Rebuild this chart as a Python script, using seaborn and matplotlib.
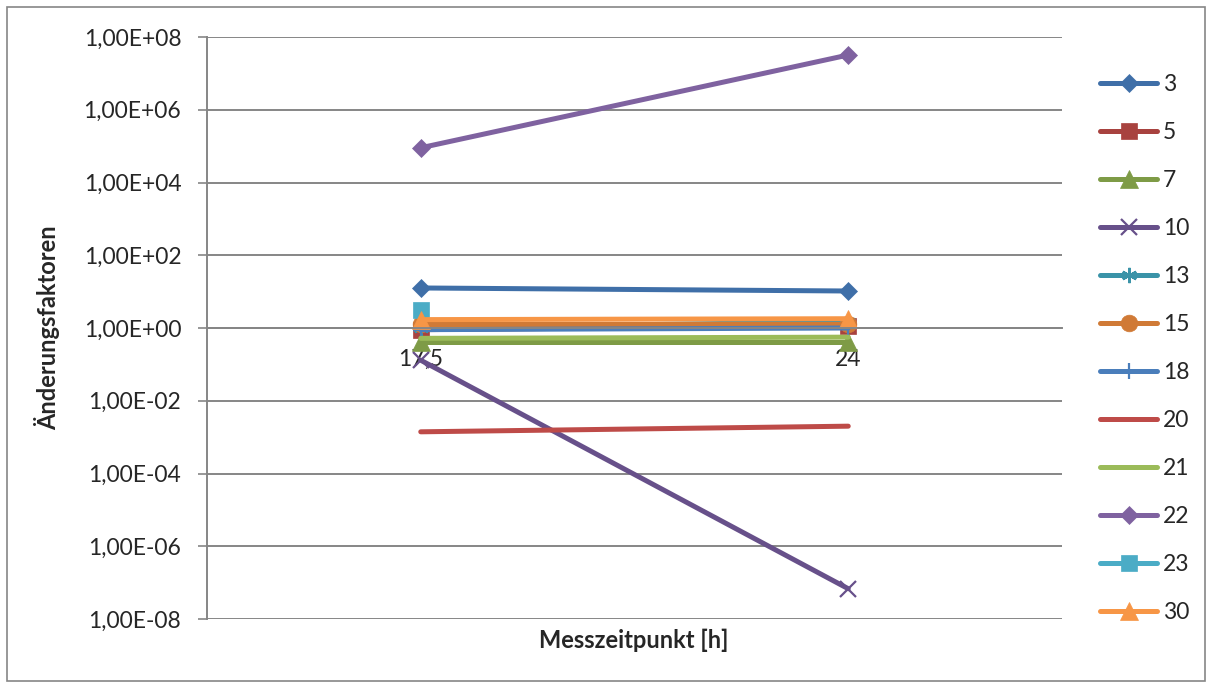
import matplotlib
matplotlib.use("Agg")
import matplotlib.pyplot as plt
from matplotlib.patches import Rectangle
from matplotlib.ticker import FixedLocator, FixedFormatter, NullLocator
import seaborn as sns
import pandas as pd
import numpy as np

# Measurement times (categories) and change factors per sample
zeitpunkte = ["17,5", "24"]
serien = ["3", "5", "7", "10", "13", "15", "18", "20", "21", "22", "23", "30"]
s3 = [12.6, 10.4]
s5 = [0.9, 1.15]
s7 = [0.42, 0.42]
s10 = [0.13, 6.8e-8]
s13 = [1.0, 1.5]
s15 = [1.3, 1.3]
s18 = [0.9, 1.0]
s20 = [1.4e-3, 2.0e-3]
s21 = [0.52, 0.56]
s22 = [9.0e4, 3.2e7]
s23 = [3.1, np.nan]
s30 = [1.7, 1.8]
werte = [s3, s5, s7, s10, s13, s15, s18, s20, s21, s22, s23, s30]

farben = ["#3F6FA8", "#A8423F", "#7E9B46", "#67508A", "#3A93A8", "#D07A36",
          "#4A7EBB", "#BE4B48", "#9BBB59", "#7F62A0", "#4BACC6", "#F79646"]
marker = ["D", "s", "^", "x", (6, 2, 0), "o", "+", None, None, "D", "s", "^"]
msize = [9.5, 12, 13, 11, 11, 12, 12, 0, 0, 9.5, 12, 13]

rows = []
for name, vals in zip(serien, werte):
    for i, (t, v) in enumerate(zip(zeitpunkte, vals)):
        rows.append({"Serie": name, "pos": i, "Zeit": t, "Faktor": v})
df = pd.DataFrame(rows)

sns.set_style("white")
plt.rcParams["font.family"] = ["Lato", "DejaVu Sans"]

FS = 16.5
W, H = 1212, 686
fig = plt.figure(figsize=(W / 100, H / 100), dpi=100)
ax = fig.add_axes([207 / W, 1 - 619 / H, (1062 - 207) / W, (619 - 37) / H])

for name, col, mk, ms in zip(serien, farben, marker, msize):
    sub = df[(df["Serie"] == name) & df["Faktor"].notna()]
    kw = dict(color=col, linewidth=3.6, ax=ax, label=name, solid_capstyle="round")
    if mk is not None:
        lw_m = 1.6 if mk in ("x", "+") or isinstance(mk, tuple) else 0.5
        kw.update(marker=mk, markersize=ms, markeredgewidth=lw_m,
                  markeredgecolor=col, markerfacecolor=col)
    sns.lineplot(data=sub, x="pos", y="Faktor", **kw)

ax.set_yscale("log")
ax.set_ylim(1e-8, 1e8)
ax.set_xlim(-0.5, 1.5)

yt = [10.0 ** e for e in range(-8, 9, 2)]
ax.yaxis.set_major_locator(FixedLocator(yt))
ax.yaxis.set_major_formatter(FixedFormatter(
    [f"1,00E{'+' if e >= 0 else '-'}{abs(e):02d}" for e in range(-8, 9, 2)]))
ax.yaxis.set_minor_locator(NullLocator())
ax.xaxis.set_major_locator(FixedLocator([0, 1]))
ax.xaxis.set_major_formatter(FixedFormatter(zeitpunkte))

ax.grid(axis="y", color="#868686", linewidth=1.4)
ax.grid(axis="x", visible=False)
for s in ("top", "right"):
    ax.spines[s].set_visible(False)
ax.spines["left"].set_color("#868686")
ax.spines["left"].set_linewidth(1.4)
ax.spines["bottom"].set_color("#868686")
ax.spines["bottom"].set_linewidth(1.4)
ax.spines["bottom"].set_position(("data", 1.0))
ax.set_axisbelow(True)

ax.tick_params(axis="y", which="major", length=6.5, width=1.2, color="#868686",
               direction="out", labelsize=FS, pad=12, left=True)
ax.tick_params(axis="x", length=0, labelsize=FS, pad=15)

ax.set_xlabel("")
ax.set_ylabel("")
fig.text(634 / W, 1 - 640 / H, "Messzeitpunkt [h]", ha="center", va="center",
         fontsize=17, fontweight="bold")
fig.text(47 / W, 1 - 328 / H, "Änderungsfaktoren", ha="center", va="center",
         rotation=90, fontsize=17, fontweight="bold")

handles, labels = ax.get_legend_handles_labels()
leg = fig.legend(handles, labels, loc="upper left",
                 bbox_to_anchor=(1100 / W, 1 - 74 / H), frameon=False,
                 fontsize=FS, handlelength=2.5, handletextpad=0.25,
                 labelspacing=1.18, borderpad=0, borderaxespad=0)
if ax.get_legend() is not None:
    ax.get_legend().remove()

fig.patches.append(Rectangle((7 / W, 5 / H), 1198 / W, (H - 12) / H,
                             transform=fig.transFigure, fill=False,
                             edgecolor="#868686", linewidth=1.2))

fig.savefig("out.png", dpi=100)
